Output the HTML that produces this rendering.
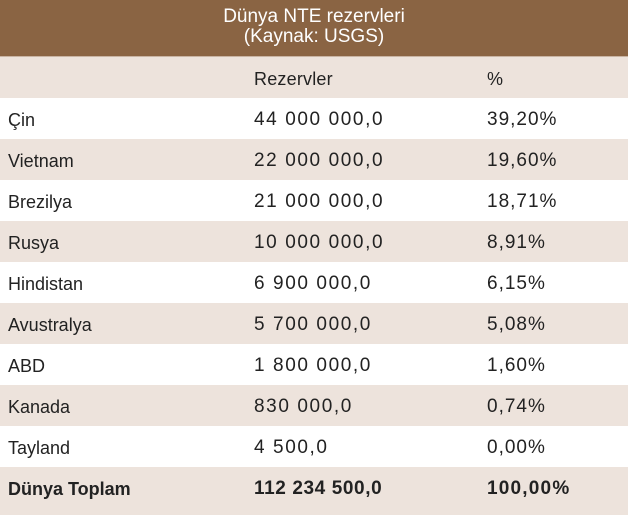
<!DOCTYPE html>
<html><head><style>
body{margin:0;width:628px;height:513px;overflow:hidden;background:#fff;font-family:"Liberation Sans",sans-serif;}
.h{height:57px;background:#8a6443;color:#fff;text-align:center;font-size:19px;line-height:20px;padding-top:7px;box-sizing:border-box;border-bottom:1px solid #c9b4a3;}
.r{height:41px;position:relative;font-size:18px;color:#222;}
.r:nth-child(odd){background:#ede3dc;}
.r span{position:absolute;top:12px;}
.a{left:8px}.b{left:254px;font-size:19px;letter-spacing:1.6px;top:11px!important}.c{left:487px;font-size:19px;letter-spacing:1px;top:11px!important}
.r:first-child .b,.r:first-child .c{letter-spacing:0.2px;font-size:18px;top:12px!important}
.t{font-weight:bold;height:48px}
.t .b{letter-spacing:0.6px}.t .c{letter-spacing:1.2px}
</style></head><body>
<div class="h">Dünya NTE rezervleri<br>(Kaynak: USGS)</div>
<div>
<div class="r"><span class="b">Rezervler</span><span class="c">%</span></div>
<div class="r"><span class="a">Çin</span><span class="b">44 000 000,0</span><span class="c">39,20%</span></div>
<div class="r"><span class="a">Vietnam</span><span class="b">22 000 000,0</span><span class="c">19,60%</span></div>
<div class="r"><span class="a">Brezilya</span><span class="b">21 000 000,0</span><span class="c">18,71%</span></div>
<div class="r"><span class="a">Rusya</span><span class="b">10 000 000,0</span><span class="c">8,91%</span></div>
<div class="r"><span class="a">Hindistan</span><span class="b">6 900 000,0</span><span class="c">6,15%</span></div>
<div class="r"><span class="a">Avustralya</span><span class="b">5 700 000,0</span><span class="c">5,08%</span></div>
<div class="r"><span class="a">ABD</span><span class="b">1 800 000,0</span><span class="c">1,60%</span></div>
<div class="r"><span class="a">Kanada</span><span class="b">830 000,0</span><span class="c">0,74%</span></div>
<div class="r"><span class="a">Tayland</span><span class="b">4 500,0</span><span class="c">0,00%</span></div>
<div class="r t"><span class="a">Dünya Toplam</span><span class="b">112 234 500,0</span><span class="c">100,00%</span></div>
</div>
</body></html>
